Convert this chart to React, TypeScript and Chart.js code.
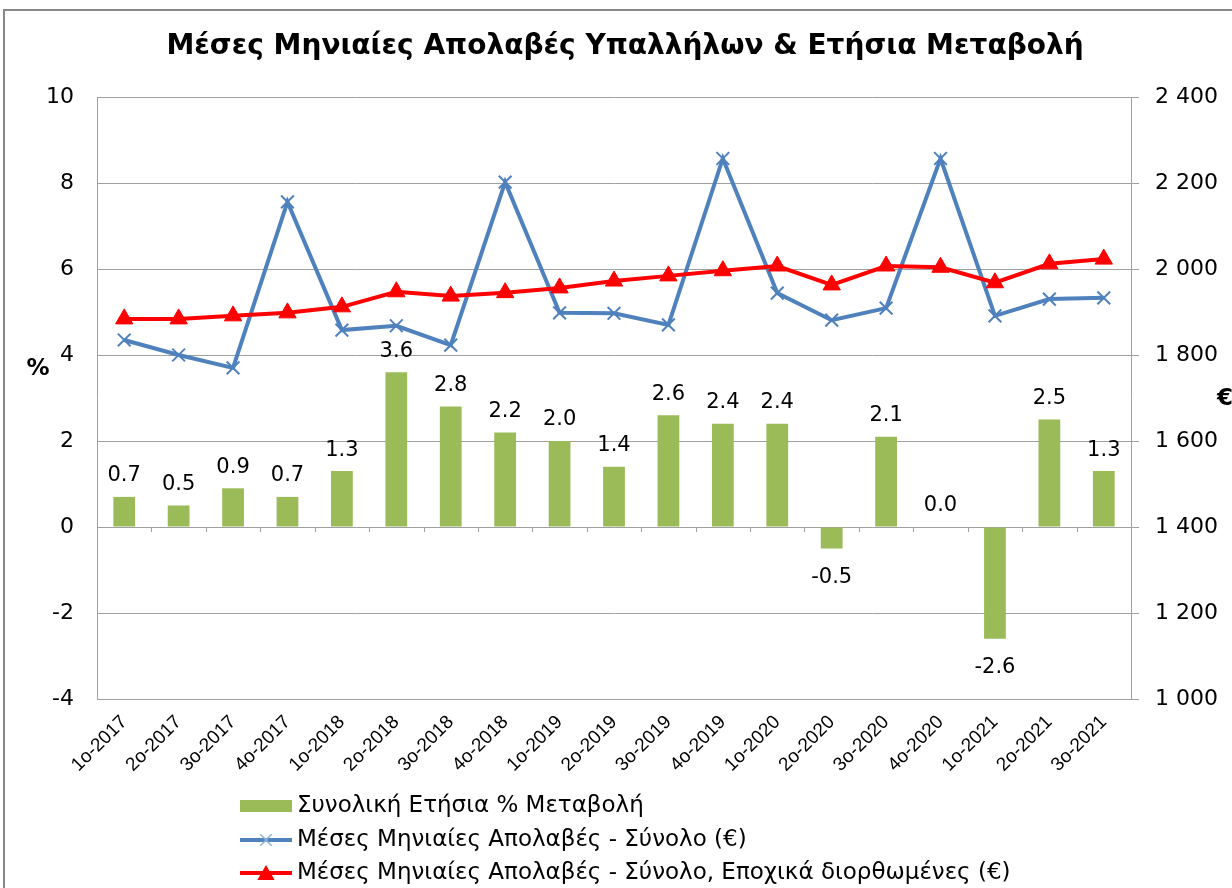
import React, { useEffect, useRef } from 'react';
import { Chart, registerables } from 'chart.js';

Chart.register(...registerables);

const chartTitle = 'Μέσες Μηνιαίες Απολαβές Υπαλλήλων & Ετήσια Μεταβολή';

const categories = [
  '1o-2017', '2o-2017', '3o-2017', '4o-2017',
  '1o-2018', '2o-2018', '3o-2018', '4o-2018',
  '1o-2019', '2o-2019', '3o-2019', '4o-2019',
  '1o-2020', '2o-2020', '3o-2020', '4o-2020',
  '1o-2021', '2o-2021', '3o-2021',
];

const annualChangePct = [0.7, 0.5, 0.9, 0.7, 1.3, 3.6, 2.8, 2.2, 2.0, 1.4, 2.6, 2.4, 2.4, -0.5, 2.1, 0.0, -2.6, 2.5, 1.3];

const earningsTotal = [1835, 1800, 1770, 2156, 1858, 1868, 1823, 2202, 1898, 1897, 1870, 2257, 1944, 1881, 1909, 2257, 1891, 1930, 1933];

const earningsSeasonallyAdj = [1884, 1884, 1891, 1898, 1912, 1947, 1937, 1945, 1956, 1972, 1984, 1996, 2007, 1963, 2007, 2004, 1968, 2012, 2023];

const legendLabels = [
  'Συνολική Ετήσια % Μεταβολή',
  'Μέσες Μηνιαίες Απολαβές - Σύνολο (€)',
  'Μέσες Μηνιαίες Απολαβές - Σύνολο, Εποχικά διορθωμένες (€)',
];

const pctAxis = { min: -4, max: 10, step: 2 };
const eurAxis = { min: 1000, max: 2400, step: 200 };

const GREEN = '#9BBB59';
const BLUE = '#4F81BD';
const RED = '#FF0000';
const GRID = '#a0a0a0';
const FONT = 'DejaVu Sans';

function drawCrossRot(ctx: CanvasRenderingContext2D, x: number, y: number, r: number, color: string, w: number) {
  ctx.save();
  ctx.strokeStyle = color;
  ctx.lineWidth = w;
  const d = r * Math.SQRT1_2;
  ctx.beginPath();
  ctx.moveTo(x - d, y - d);
  ctx.lineTo(x + d, y + d);
  ctx.moveTo(x + d, y - d);
  ctx.lineTo(x - d, y + d);
  ctx.stroke();
  ctx.restore();
}

function drawTriangle(ctx: CanvasRenderingContext2D, x: number, y: number, r: number, color: string) {
  ctx.save();
  ctx.fillStyle = color;
  ctx.beginPath();
  ctx.moveTo(x, y - r);
  ctx.lineTo(x + r * 0.866, y + r * 0.5);
  ctx.lineTo(x - r * 0.866, y + r * 0.5);
  ctx.closePath();
  ctx.fill();
  ctx.restore();
}

const overlayPlugin = {
  id: 'overlay',
  beforeDatasetsDraw(chart: any) {
    const ctx: CanvasRenderingContext2D = chart.ctx;
    const { left, right } = chart.chartArea;
    const y0 = chart.scales.y.getPixelForValue(0);
    const n = categories.length;
    ctx.save();
    ctx.strokeStyle = GRID;
    ctx.lineWidth = 1;
    ctx.beginPath();
    for (let i = 0; i <= n; i++) {
      const x = Math.round(left + ((right - left) * i) / n) + 0.5;
      ctx.moveTo(x, y0);
      ctx.lineTo(x, y0 + 5);
    }
    ctx.stroke();
    ctx.restore();
  },
  afterDatasetsDraw(chart: any) {
    const ctx: CanvasRenderingContext2D = chart.ctx;
    const idx = chart.data.datasets.findIndex((d: any) => d.type === 'bar');
    const meta = chart.getDatasetMeta(idx);
    ctx.save();
    ctx.font = `21px "${FONT}"`;
    ctx.fillStyle = '#000';
    ctx.textAlign = 'center';
    ctx.textBaseline = 'middle';
    meta.data.forEach((el: any, i: number) => {
      const v = annualChangePct[i];
      const y = v >= 0 ? el.y - 21 : el.y + 29;
      ctx.fillText(v.toFixed(1), el.x, y);
    });
    ctx.restore();
  },
  afterDraw(chart: any) {
    const ctx: CanvasRenderingContext2D = chart.ctx;
    ctx.save();
    // outer frame
    ctx.strokeStyle = '#878787';
    ctx.lineWidth = 2;
    ctx.strokeRect(4, 10, 1400, 1000);

    // title
    ctx.fillStyle = '#000';
    ctx.font = `bold 28px "${FONT}"`;
    ctx.textAlign = 'center';
    ctx.textBaseline = 'middle';
    ctx.fillText(chartTitle, 625, 47);

    // axis unit labels
    ctx.font = `bold 23px "${FONT}"`;
    ctx.fillText('%', 38, 369);
    ctx.textAlign = 'left';
    ctx.fillText('€', 1217, 399);

    // legend
    const lx0 = 240;
    const lx1 = 292;
    const mx = (lx0 + lx1) / 2;
    const rows = [806, 840, 873];
    ctx.fillStyle = GREEN;
    ctx.fillRect(lx0, rows[0] - 6, lx1 - lx0, 12);

    ctx.strokeStyle = BLUE;
    ctx.lineWidth = 4;
    ctx.beginPath();
    ctx.moveTo(lx0, rows[1]);
    ctx.lineTo(lx1, rows[1]);
    ctx.stroke();
    drawCrossRot(ctx, mx, rows[1], 8, '#8fb0dc', 1.5);

    ctx.strokeStyle = RED;
    ctx.lineWidth = 4;
    ctx.beginPath();
    ctx.moveTo(lx0, rows[2]);
    ctx.lineTo(lx1, rows[2]);
    ctx.stroke();
    drawTriangle(ctx, mx, rows[2] + 2, 10, RED);

    ctx.fillStyle = '#000';
    ctx.font = `23px "${FONT}"`;
    ctx.textAlign = 'left';
    ctx.textBaseline = 'middle';
    legendLabels.forEach((t, i) => ctx.fillText(t, lx1 + 5, rows[i]));
    ctx.restore();
  },
};

export default function App() {
  const canvasRef = useRef<HTMLCanvasElement | null>(null);

  useEffect(() => {
    if (!canvasRef.current) return;
    const chart = new Chart(canvasRef.current, {
      type: 'bar',
      data: {
        labels: categories,
        datasets: [
          {
            type: 'line',
            label: legendLabels[2],
            data: earningsSeasonallyAdj,
            yAxisID: 'y1',
            borderColor: RED,
            backgroundColor: RED,
            borderWidth: 4,
            pointStyle: 'triangle',
            pointRadius: 10,
            pointBorderColor: RED,
            pointBackgroundColor: RED,
            pointBorderWidth: 1,
            tension: 0,
            order: 1,
          },
          {
            type: 'line',
            label: legendLabels[1],
            data: earningsTotal,
            yAxisID: 'y1',
            borderColor: BLUE,
            backgroundColor: BLUE,
            borderWidth: 4,
            pointStyle: 'crossRot',
            pointRadius: 9,
            pointBorderColor: BLUE,
            pointBorderWidth: 2,
            tension: 0,
            order: 2,
          },
          {
            type: 'bar',
            label: legendLabels[0],
            data: annualChangePct,
            yAxisID: 'y',
            backgroundColor: GREEN,
            borderWidth: 0,
            barPercentage: 0.4,
            categoryPercentage: 1,
            order: 3,
          },
        ] as any,
      },
      options: {
        animation: false,
        responsive: false,
        maintainAspectRatio: false,
        devicePixelRatio: 1,
        layout: { padding: { top: 97, left: 0, right: 0, bottom: 0 } },
        plugins: {
          legend: { display: false },
          title: { display: false },
          tooltip: { enabled: false },
        },
        scales: {
          x: {
            offset: true,
            grid: { display: false },
            border: { display: true, color: GRID, width: 1 },
            ticks: {
              minRotation: 45,
              maxRotation: 45,
              autoSkip: false,
              padding: 4,
              color: '#000',
              font: { family: 'Liberation Sans', size: 19 },
            },
            afterFit(scale: any) {
              scale.height = 189;
            },
          },
          y: {
            position: 'left',
            min: pctAxis.min,
            max: pctAxis.max,
            grid: { color: GRID, lineWidth: 1, drawTicks: false },
            border: { display: true, color: GRID, width: 1 },
            ticks: {
              stepSize: pctAxis.step,
              padding: 23,
              color: '#000',
              font: { family: FONT, size: 22 },
            },
            afterFit(scale: any) {
              scale.width = 97;
            },
          },
          y1: {
            position: 'right',
            min: eurAxis.min,
            max: eurAxis.max,
            grid: { drawOnChartArea: false, drawTicks: true, tickLength: 8, color: GRID },
            border: { display: true, color: GRID, width: 1 },
            ticks: {
              stepSize: eurAxis.step,
              padding: 16,
              color: '#000',
              font: { family: FONT, size: 22 },
              callback: (v: any) => {
                const n = Number(v);
                const s = String(Math.abs(n));
                return s.length > 3 ? s.slice(0, s.length - 3) + ' ' + s.slice(-3) : s;
              },
            },
            afterFit(scale: any) {
              scale.width = 101;
            },
          },
        },
      } as any,
      plugins: [overlayPlugin],
    });
    return () => chart.destroy();
  }, []);

  return (
    <div style={{ position: 'absolute', left: 0, top: 0, width: 1232, height: 888, background: '#fff', overflow: 'hidden' }}>
      <canvas ref={canvasRef} width={1232} height={888} style={{ display: 'block', width: 1232, height: 888 }} />
    </div>
  );
}
